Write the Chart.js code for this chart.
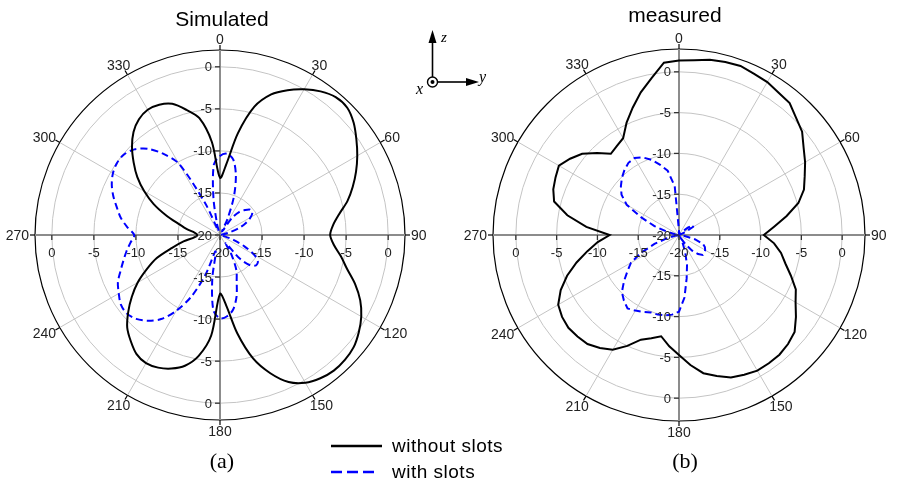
<!DOCTYPE html>
<html>
<head>
<meta charset="utf-8">
<script src="https://cdn.jsdelivr.net/npm/chart.js@4.4.1/dist/chart.umd.min.js"></script>
<style>
  html, body { margin: 0; padding: 0; background: #fff; width: 898px; height: 482px; overflow: hidden; }
  #simCanvas { position: absolute; left: 0; top: 15px; }
  #measCanvas { position: absolute; left: 460px; top: 16px; }
  #overlay { position: absolute; left: 0; top: 0; }
  .sans { font-family: "Liberation Sans", Arial, sans-serif; }
  .serif { font-family: "Liberation Serif", "Times New Roman", serif; }
</style>
</head>
<body>
<canvas id="simCanvas" width="440" height="440"></canvas>
<canvas id="measCanvas" width="438" height="438"></canvas>

<svg id="overlay" width="898" height="482">
  <!-- titles and panel letters -->
  <text class="sans" x="222" y="26" font-size="21" text-anchor="middle">Simulated</text>
  <text class="sans" x="675" y="22" font-size="21" text-anchor="middle">measured</text>
  <text class="serif" x="222" y="468" font-size="22" text-anchor="middle">(a)</text>
  <text class="serif" x="685" y="468" font-size="22" text-anchor="middle">(b)</text>

  <!-- legend -->
  <line x1="331" y1="446" x2="382" y2="446" stroke="#000" stroke-width="2.6"/>
  <line x1="331" y1="472" x2="376" y2="472" stroke="#0000ff" stroke-width="2.6" stroke-dasharray="11 5"/>
  <text class="sans" x="392" y="452" font-size="19" letter-spacing="0.5">without slots</text>
  <text class="sans" x="392" y="478" font-size="19" letter-spacing="0.5">with slots</text>

  <!-- coordinate inset -->
  <line x1="432.5" y1="77" x2="432.5" y2="42" stroke="#000" stroke-width="1.6"/>
  <polygon points="432.5,30 428.5,43 436.5,43" fill="#000"/>
  <line x1="437.5" y1="82" x2="467" y2="82" stroke="#000" stroke-width="1.6"/>
  <polygon points="479,82 466,78 466,86" fill="#000"/>
  <circle cx="432.5" cy="82" r="5" fill="#fff" stroke="#000" stroke-width="1.4"/>
  <circle cx="432.5" cy="82" r="2" fill="#000"/>
  <text class="serif" x="441" y="42" font-size="15" font-style="italic">z</text>
  <text class="serif" x="479" y="82" font-size="16" font-style="italic">y</text>
  <text class="serif" x="416" y="94" font-size="16" font-style="italic">x</text>
</svg>

<script>
// angle categories (deg), one every 5 degrees
const ANGLES = [0, 5, 10, 15, 20, 25, 30, 35, 40, 45, 50, 55, 60, 65, 70, 75, 80, 85,
    90, 95, 100, 105, 110, 115, 120, 125, 130, 135, 140, 145, 150, 155, 160, 165, 170, 175,
    180, 185, 190, 195, 200, 205, 210, 215, 220, 225, 230, 235, 240, 245, 250, 255, 260, 265,
    270, 275, 280, 285, 290, 295, 300, 305, 310, 315, 320, 325, 330, 335, 340, 345, 350, 355];

// angle tick labels and radial tick labels (dB)
const ANGLE_TICKS = [0, 30, 60, 90, 120, 150, 180, 210, 240, 270, 300, 330];
const RADIAL_TICKS = [-20, -15, -10, -5, 0];

// (a) simulated, dB
const simWithout = [-13.2, -11.6, -7.7, -4.2, -2.2, -1.0, 0.0, 0.85, 1.4, 1.4, 0.75, -0.2,
    -1.15, -2.15, -3.2, -4.3, -5.6, -6.5, -6.9, -6.4, -5.4, -4.35, -2.9, -1.6,
    -0.6, 0.15, 0.75, 1.0, 1.05, 0.8, 0.3, -0.7, -2.5, -4.8, -8.1, -11.6,
    -13.0, -8.0, -5.4, -3.9, -3.1, -2.6, -2.4, -2.7, -3.5, -4.4, -5.75, -7.2,
    -8.7, -10.4, -12.0, -14.1, -15.6, -17.0, -17.3, -17.0, -16.0, -14.9, -13.2, -11.3,
    -9.6, -8.0, -6.6, -5.2, -4.0, -3.2, -2.8, -2.9, -3.4, -4.6, -5.9, -8.9];
const simWith = [-10.6, -10.3, -10.9, -12.7, -15.2, -17.9, -19.5, -17.5, -16.4, -15.8, -15.3, -15.3,
    -15.8, -16.6, -17.6, -19.0, -20, -20, -20, -20, -20, -19.5, -18.3, -16.8,
    -15.3, -14.5, -14.4, -14.9, -16.3, -18.8, -17.2, -15.4, -14.2, -12.4, -11.0, -10.3,
    -10.1, -11.0, -14.7, -18.0, -15.0, -11.9, -9.6, -7.8, -6.7, -5.9, -5.5, -5.6,
    -6.1, -6.6, -7.4, -8.1, -8.7, -9.3, -9.8, -8.9, -8.0, -7.3, -6.5, -5.8,
    -5.3, -5.05, -5.1, -5.6, -6.6, -8.2, -10.2, -15.8, -19.5, -18.6, -15.5, -11.6];

// (b) measured, dB
const measWithout = [1.4, 1.5, 1.8, 1.95, 2.05, 1.8, 1.65, 1.3, 1.1, 0.3, -0.3, -1.35,
    -2.15, -3.0, -3.7, -4.85, -6.6, -8.3, -9.6, -8.3, -7.3, -6.5, -5.4, -4.2,
    -3.5, -2.5, -1.5, -1.1, -0.85, -0.8, -0.8, -1.1, -1.4, -2.1, -2.8, -4.0,
    -5.3, -6.3, -7.4, -6.9, -6.35, -5.0, -3.75, -3.1, -2.55, -2.4, -2.3, -2.5,
    -2.9, -4.0, -5.4, -7.0, -8.6, -10.0, -11.5, -8.6, -6.1, -4.15, -3.6, -3.3,
    -3.0, -3.7, -4.5, -5.8, -7.0, -6.7, -6.3, -4.8, -3.4, -1.9, -0.5, 1.2];
const measWith = [-19.5, -20, -20, -20, -20, -20, -20, -20, -20, -19.5, -18.6, -17.9,
    -18.0, -19.2, -20, -20, -20, -20, -20, -20, -19.3, -18.0, -16.9, -16.5,
    -16.3, -16.2, -16.2, -16.7, -17.5, -18.6, -19.5, -19.0, -17.8, -16.2, -14.6, -12.3,
    -10.6, -10.2, -10.0, -9.9, -9.9, -9.6, -9.3, -9.0, -9.5, -10.1, -11.2, -12.3,
    -13.2, -14.9, -16.8, -18.5, -19.5, -20, -20, -20, -19.5, -18.5, -16.8, -14.9,
    -12.6, -11.4, -10.7, -10.1, -9.6, -9.2, -9.1, -9.5, -10.2, -11.1, -12.0, -14.0];

const LABEL_FONT = '"Liberation Sans", Arial, sans-serif';

// draws the frame ticks, angle labels and the dB labels along the four axes
const polarFrame = {
    id: 'polarFrame',
    afterDatasetsDraw(chart) {
        const s = chart.scales.r;
        const ctx = chart.ctx;
        const cx = s.xCenter, cy = s.yCenter, R = s.drawingArea;
        ctx.save();

        // small ticks outside the outer circle
        ctx.strokeStyle = '#000';
        ctx.lineWidth = 1.2;
        ANGLE_TICKS.forEach(a => {
            const t = a * Math.PI / 180;
            ctx.beginPath();
            ctx.moveTo(cx + R * Math.sin(t), cy - R * Math.cos(t));
            ctx.lineTo(cx + (R + 5) * Math.sin(t), cy - (R + 5) * Math.cos(t));
            ctx.stroke();
        });

        // angle labels
        ctx.font = '14px ' + LABEL_FONT;
        ctx.fillStyle = '#222';
        ctx.textAlign = 'center';
        ctx.textBaseline = 'alphabetic';
        ANGLE_TICKS.forEach(a => {
            const t = a * Math.PI / 180;
            const txt = String(a);
            const w = ctx.measureText(txt).width, h = 10;
            const x = cx + (R + 6) * Math.sin(t) + w / 2 * Math.sin(t);
            const y = cy - (R + 6) * Math.cos(t) - h / 2 * Math.cos(t);
            ctx.fillText(txt, x, y + h / 2);
        });

        // dB labels along the axes
        ctx.font = '13px ' + LABEL_FONT;
        ctx.strokeStyle = '#333';
        ctx.lineWidth = 1.3;
        RADIAL_TICKS.forEach(v => {
            const d = s.getDistanceFromCenterForValue(v);
            [-1, 1].forEach(dir => {
                if (d === 0 && dir === 1) return;
                const y = cy + dir * d;
                ctx.beginPath();
                ctx.moveTo(cx - 5, y);
                ctx.lineTo(cx, y);
                ctx.stroke();
                ctx.textAlign = 'right';
                ctx.fillText(String(v), cx - 8, y + 4.5);
            });
            [-1, 1].forEach(dir => {
                if (d === 0 && dir === 1) return;
                const x = cx + dir * d;
                ctx.beginPath();
                ctx.moveTo(x, cy);
                ctx.lineTo(x, cy + 5);
                ctx.stroke();
                ctx.textAlign = 'center';
                ctx.fillText(String(v), x, cy + 22);
            });
        });
        ctx.restore();
    }
};

function makePolar(id, without, withSlots, maxDb, pad, tension) {
    return new Chart(document.getElementById(id), {
        type: 'radar',
        data: {
            labels: ANGLES,
            datasets: [{
                label: 'without slots',
                data: without,
                borderColor: '#000',
                borderWidth: 2,
                fill: false,
                tension: tension
            }, {
                label: 'with slots',
                data: withSlots,
                borderColor: '#0000ff',
                borderWidth: 2,
                borderDash: [7, 4],
                fill: false,
                tension: tension
            }]
        },
        options: {
            responsive: false,
            animation: false,
            layout: { padding: pad },
            elements: { point: { radius: 0, hoverRadius: 0 } },
            plugins: { legend: { display: false }, tooltip: { enabled: false } },
            scales: {
                r: {
                    min: -20,
                    max: maxDb,
                    startAngle: 0,
                    afterBuildTicks: scale => {
                        scale.ticks = RADIAL_TICKS.concat([maxDb]).map(v => ({ value: v }));
                    },
                    ticks: { display: false },
                    pointLabels: { display: false },
                    grid: {
                        circular: true,
                        color: c => (c.tick && c.tick.value === maxDb) ? '#000' : '#c4c4c4',
                        lineWidth: c => c.index === 0 ? 0 : ((c.tick && c.tick.value === maxDb) ? 1.2 : 1)
                    },
                    angleLines: {
                        color: c => c.index % 18 === 0 ? '#8c8c8c' : (c.index % 6 === 0 ? '#c4c4c4' : 'rgba(0,0,0,0)'),
                        lineWidth: c => c.index % 18 === 0 ? 2 : (c.index % 6 === 0 ? 1 : 0)
                    }
                }
            }
        },
        plugins: [polarFrame]
    });
}

makePolar('simCanvas', simWithout, simWith, 2.0, 35, 0.3);
makePolar('measCanvas', measWithout, measWith, 2.8, 33, 0);
</script>
</body>
</html>
